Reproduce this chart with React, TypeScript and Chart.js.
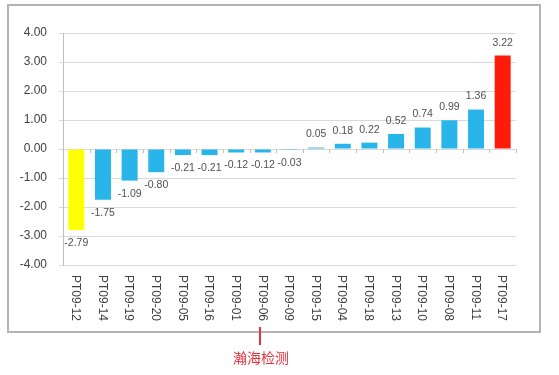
import React, { useEffect, useRef } from "react";
import { Chart, registerables } from "chart.js";

Chart.register(...registerables);

const categories = [
  "PT09-12", "PT09-14", "PT09-19", "PT09-20", "PT09-05", "PT09-16", "PT09-01", "PT09-06", "PT09-09",
  "PT09-15", "PT09-04", "PT09-18", "PT09-13", "PT09-10", "PT09-08", "PT09-11", "PT09-17",
];
const values = [-2.79, -1.75, -1.09, -0.8, -0.21, -0.21, -0.12, -0.12, -0.03, 0.05, 0.18, 0.22, 0.52, 0.74, 0.99, 1.36, 3.22];
const yMin = -4;
const yMax = 4;
const yStep = 1;
const watermark = "瀚海检测";

const BLUE = "#29B5EA";
const YELLOW = "#FFFF00";
const RED = "#FF1A0A";
const FONT = "'Liberation Sans', Arial, sans-serif";

export default function App() {
  const ref = useRef<HTMLCanvasElement | null>(null);

  useEffect(() => {
    const canvas = ref.current;
    if (!canvas) return;
    const colors = values.map((_, i) => (i === 0 ? YELLOW : i === values.length - 1 ? RED : BLUE));

    const overlay = {
      id: "overlay",
      afterDatasetsDraw(chart: any) {
        const ctx = chart.ctx;
        const xs = chart.scales.x;
        const ys = chart.scales.y;
        const y0 = ys.getPixelForValue(0);
        ctx.save();
        // category tick marks on zero line
        ctx.strokeStyle = "#bfbfbf";
        ctx.lineWidth = 1;
        const n = categories.length;
        const w = (xs.right - xs.left) / n;
        for (let i = 0; i <= n; i++) {
          const x = Math.round(xs.left + i * w) + 0.5;
          ctx.beginPath();
          ctx.moveTo(x, y0);
          ctx.lineTo(x, y0 + 4);
          ctx.stroke();
        }
        // data labels
        const meta = chart.getDatasetMeta(0);
        ctx.font = `10.5px ${FONT}`;
        ctx.fillStyle = "#505050";
        ctx.textAlign = "center";
        ctx.textBaseline = "middle";
        meta.data.forEach((bar: any, i: number) => {
          const v = values[i];
          const y = v >= 0 ? bar.y - 13 : bar.y + 13;
          ctx.fillText(v.toFixed(2), bar.x, y);
        });
        // rotated category labels
        ctx.font = `12px ${FONT}`;
        ctx.fillStyle = "#404040";
        ctx.textAlign = "left";
        ctx.textBaseline = "middle";
        categories.forEach((c, i) => {
          const x = xs.getPixelForValue(i);
          ctx.save();
          ctx.translate(x - 1, ys.bottom + 10);
          ctx.rotate(Math.PI / 2);
          ctx.fillText(c, 0, 0);
          ctx.restore();
        });
        // red marker and watermark text
        ctx.strokeStyle = "#E5323B";
        ctx.lineWidth = 2;
        ctx.beginPath();
        ctx.moveTo(260, 327);
        ctx.lineTo(260, 345);
        ctx.stroke();
        ctx.font = `14px 'Noto Sans CJK SC', sans-serif`;
        ctx.fillStyle = "#E5323B";
        ctx.textAlign = "center";
        ctx.fillText(watermark, 261, 358);
        ctx.restore();
      },
    };

    const chart = new Chart(canvas, {
      type: "bar",
      data: {
        labels: categories,
        datasets: [
          {
            data: values,
            backgroundColor: colors,
            barPercentage: 0.6,
            categoryPercentage: 1,
          },
        ],
      },
      options: {
        animation: false,
        responsive: false,
        layout: { padding: { left: 7, top: 33, right: 43, bottom: 110 } },
        plugins: { legend: { display: false }, tooltip: { enabled: false } },
        scales: {
          x: { display: false },
          y: {
            min: yMin,
            max: yMax,
            afterFit: (s: any) => {
              s.width = 56;
            },
            ticks: {
              stepSize: yStep,
              padding: 12,
              color: "#404040",
              font: { size: 12, family: FONT },
              callback: (v: any) => Number(v).toFixed(2),
            },
            grid: { color: "#d9d9d9", tickLength: 4 },
            border: { color: "#bfbfbf" },
          },
        },
      },
      plugins: [overlay],
    });
    return () => chart.destroy();
  }, []);

  return (
    <div style={{ position: "absolute", left: 0, top: 0, width: 559, height: 375, background: "#fff" }}>
      <div
        style={{
          position: "absolute",
          left: 7,
          top: 4,
          width: 534,
          height: 329,
          border: "2px solid #b4b4b4",
          boxSizing: "border-box",
        }}
      />
      <canvas ref={ref} width={559} height={375} style={{ position: "absolute", left: 0, top: 0 }} />
    </div>
  );
}
